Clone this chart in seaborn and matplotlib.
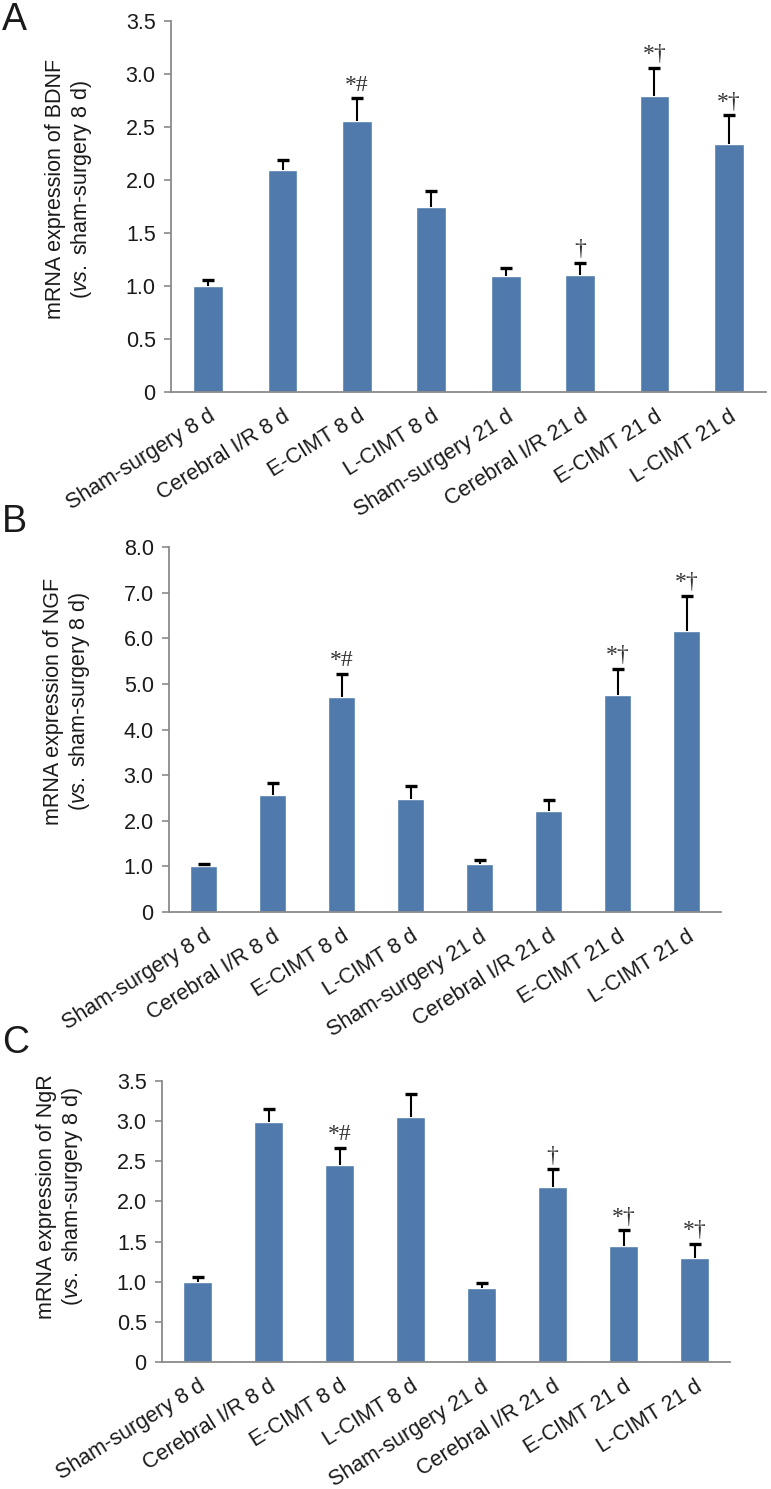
import matplotlib
matplotlib.use("Agg")
import matplotlib.pyplot as plt
import numpy as np
import pandas as pd
import seaborn as sns

GROUPS = [
    "Sham-surgery 8 d", "Cerebral I/R 8 d", "E-CIMT 8 d", "L-CIMT 8 d",
    "Sham-surgery 21 d", "Cerebral I/R 21 d", "E-CIMT 21 d", "L-CIMT 21 d",
]

BDNF_MEAN = [1.00, 2.09, 2.56, 1.75, 1.09, 1.10, 2.79, 2.34]
BDNF_ERR = [0.06, 0.10, 0.21, 0.15, 0.08, 0.12, 0.27, 0.27]
BDNF_MARKS = ["", "", "*#", "", "", "†", "*†", "*†"]

NGF_MEAN = [1.00, 2.56, 4.72, 2.48, 1.05, 2.22, 4.75, 6.16]
NGF_ERR = [0.06, 0.26, 0.50, 0.29, 0.08, 0.23, 0.57, 0.76]
NGF_MARKS = ["", "", "*#", "", "", "", "*†", "*†"]

NGR_MEAN = [1.00, 2.99, 2.45, 3.05, 0.92, 2.18, 1.44, 1.30]
NGR_ERR = [0.06, 0.16, 0.22, 0.29, 0.06, 0.22, 0.20, 0.17]
NGR_MARKS = ["", "", "*#", "", "", "†", "*†", "*†"]

BAR_COLOR = "#4f7aab"
AXIS_GRAY = "#8a8a8a"
TEXT = "#1a1a1a"

W, H = 771, 1489

sns.set_style("white")
plt.rcParams["font.family"] = ["Liberation Sans", "DejaVu Sans"]
plt.rcParams["mathtext.fontset"] = "custom"
plt.rcParams["mathtext.rm"] = "Liberation Sans"
plt.rcParams["mathtext.it"] = "Liberation Sans:italic"


def draw_panel(ax, mean, err, marks, ymax, step, fmt, gene, label_y):
    df = pd.DataFrame({"group": GROUPS, "value": mean})
    sns.barplot(data=df, x="group", y="value", color=BAR_COLOR, width=0.4,
                saturation=1, errorbar=None, ax=ax)
    x = np.arange(len(GROUPS))
    top = np.add(mean, err)
    # upper-only error bars with a cap on the top end
    ax.vlines(x, mean, top, color="black", linewidth=1.5, zorder=3)
    ax.plot(x, top, linestyle="none", marker="_", markersize=8,
            markeredgewidth=2.4, color="black", zorder=3)
    for xi, t, m in zip(x, top, marks):
        if m:
            ax.annotate(m, (xi, t), xytext=(0, 2), textcoords="offset points",
                        ha="center", va="bottom", fontsize=17, color="#333333",
                        family=["Liberation Serif", "DejaVu Serif"])

    ticks = np.arange(0, ymax + step / 2, step)
    ax.set_ylim(0, ymax)
    ax.set_yticks(ticks)
    ax.set_yticklabels(["0"] + [fmt % t for t in ticks[1:]])
    ax.set_xlim(-0.5, len(GROUPS) - 0.5)
    ax.set_xticks(x)
    ax.set_xticklabels(GROUPS, rotation=32, ha="right", rotation_mode="anchor")
    ax.set_xticks(np.arange(-0.5, len(GROUPS), 1), minor=True)
    ax.tick_params(axis="x", which="major", length=0, pad=10, labelsize=15.5, labelcolor=TEXT)
    ax.tick_params(axis="x", which="minor", length=6, width=1.2, color=AXIS_GRAY)
    ax.tick_params(axis="y", length=5, width=1.2, color=AXIS_GRAY, pad=6,
                   labelsize=15.5, labelcolor=TEXT, left=True)
    ax.set_xlabel("")
    ax.set_ylabel("")
    sns.despine(ax=ax)
    for side in ("left", "bottom"):
        ax.spines[side].set_color(AXIS_GRAY)
        ax.spines[side].set_linewidth(1.3)

    ax.text(-0.17 * 595 / (ax.get_position().width * W), label_y,
            "mRNA expression of " + gene + "\n(" + r"$\it{vs.}$" + " sham-surgery 8 d)",
            transform=ax.transAxes, rotation=90, ha="center", va="center",
            fontsize=15.5, color=TEXT, linespacing=1.15)


fig = plt.figure(figsize=(W / 100, H / 100), dpi=100)

# axes boxes in pixels: left, top, right, bottom
boxes = [(171, 21, 766, 392), (169, 547, 721, 912), (162, 1081, 730, 1362)]
axes = []
for l, t, r, b in boxes:
    axes.append(fig.add_axes([l / W, 1 - b / H, (r - l) / W, (b - t) / H]))

draw_panel(axes[0], BDNF_MEAN, BDNF_ERR, BDNF_MARKS, 3.5, 0.5, "%.1f", "BDNF", 0.547)
draw_panel(axes[1], NGF_MEAN, NGF_ERR, NGF_MARKS, 8.0, 1.0, "%.1f", "NGF", 0.578)
draw_panel(axes[2], NGR_MEAN, NGR_ERR, NGR_MARKS, 3.5, 0.5, "%.1f", "NgR", 0.59)

for letter, base in (("A", 30), ("B", 532), ("C", 1053)):
    fig.text(2 / W, 1 - base / H, letter, fontsize=27, color=TEXT, va="baseline")

fig.savefig("out.png", dpi=100)
